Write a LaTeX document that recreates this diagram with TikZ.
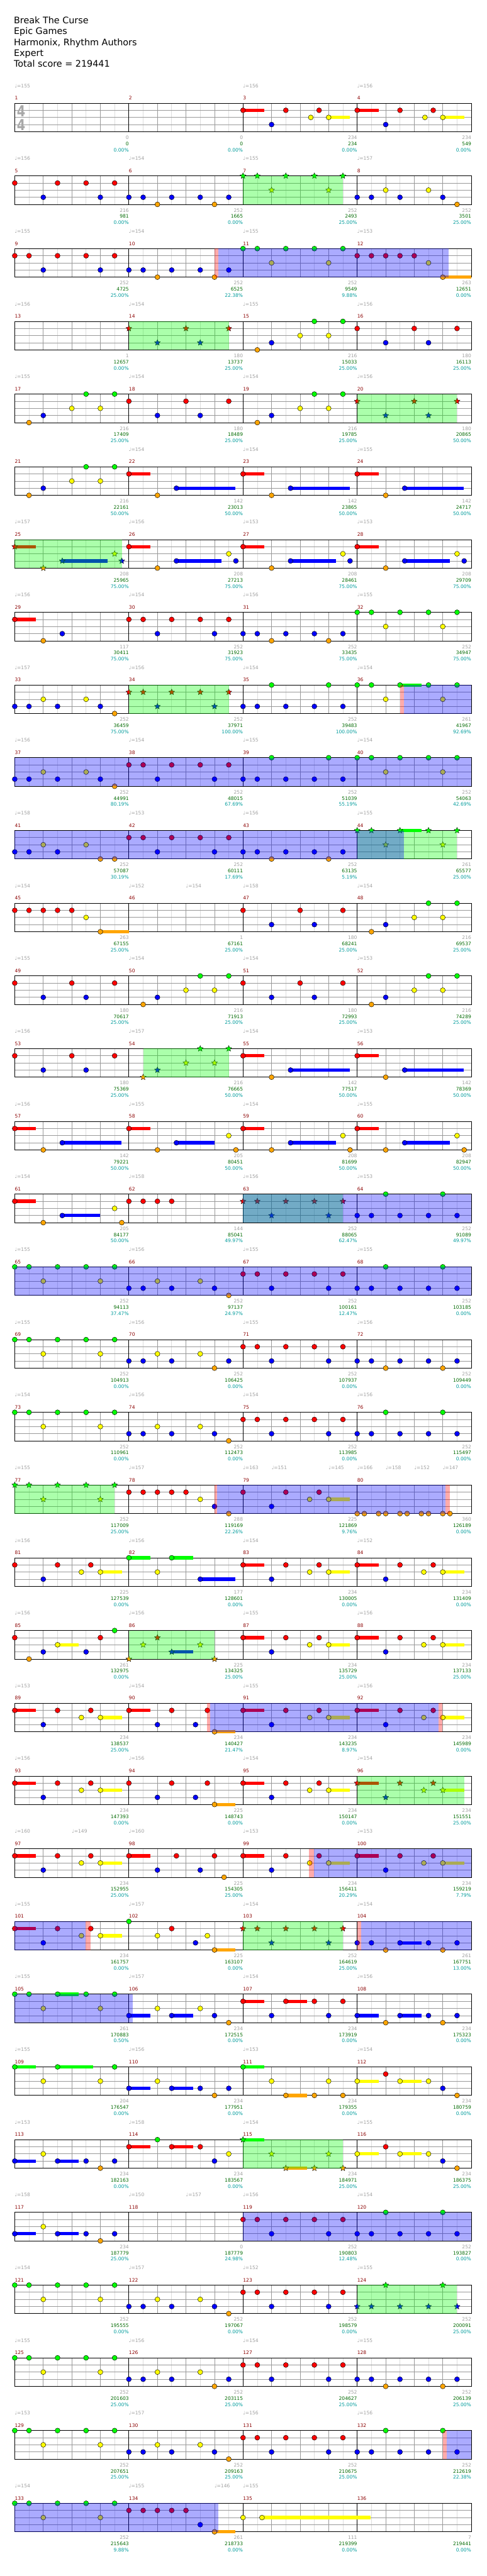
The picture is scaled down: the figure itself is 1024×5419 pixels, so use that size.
\documentclass[tikz,border=0pt]{standalone}
\usepackage{fontspec}
\setmainfont{DejaVu Sans}
\usetikzlibrary{shapes.geometric}

\definecolor{cG}{HTML}{00FF00}
\definecolor{cR}{HTML}{FF0000}
\definecolor{cY}{HTML}{FFFF00}
\definecolor{cB}{HTML}{0000FF}
\definecolor{cO}{HTML}{FFA500}
\definecolor{numred}{HTML}{8B0000}
\definecolor{bpmgray}{HTML}{A0A0A0}
\definecolor{ptsgray}{HTML}{A0A0A0}
\definecolor{totgreen}{HTML}{006A00}
\definecolor{pctteal}{HTML}{009C9C}
\definecolor{gridgray}{HTML}{999999}
\definecolor{gridlight}{HTML}{DDDDDD}
\definecolor{tsgray}{HTML}{A8A8A8}

% lanes, top to bottom
\def\laneG{0}\def\laneR{1}\def\laneY{2}\def\laneB{3}\def\laneO{4}

% recurring bars
\def\pG{G/0,G/1,Y/2,G/3,G/5,Y/6,G/7}
\def\pR{R/0,R/1,B/2,R/3,R/5,B/6,R/7}
\def\pY{B/0,B/1,Y/2,B/3,Y/5,B/6,O/7}
\def\pD{B/0,B/1,G/2,B/3,B/5,G/6,B/7}
\def\pO{B/0,B/1,O/2,B/3,B/5,O/6,B/7}
\def\pK{O/1,B/2,Y/4,G/5,Y/6,G/7}
\def\pQ{R/0,B/2,R/4,B/5,R/7}
\def\pT{R/0,O/2,B/3.33}
\def\pS{R/0,B/2,R/3,Y/4.67,R/5.33,Y/6}
\def\pF{R/0,R/1,R/2,R/3,R/4}

% x of measure #1 at eighth #2, top of its staff
\newcommand\setxy[2]{%
  \pgfmathsetmacro\xa{31+240*mod(#1-1,4)+30*(#2)}%
  \pgfmathsetmacro\ya{217+153*floor((#1-1)/4)}}

\newcommand\putnotes[3]{%
  \edef\notelist{#3}%
  \foreach \nla/\npo [count=\nk] in \notelist {%
    \setxy{#2}{\npo}%
    \pgfmathsetmacro\yb{\ya+15*\csname lane\nla\endcsname}%
    \node[#1, fill=c\nla] (#1#2-\nk) at (\xa,\yb) {};
  }}

\newcommand\holdbar[4]{%
  \setxy{#1}{#4}\let\xb\xa
  \setxy{#1}{#3}%
  \pgfmathsetmacro\yb{\ya+15*\csname lane#2\endcsname}%
  \fill[c#2] (\xa,\yb-3.5) rectangle (\xb,\yb+3.5);}

\newcommand\zone[4]{%
  \setxy{#2}{#4}\let\xb\xa
  \setxy{#2}{#3}%
  \fill[#1] (\xa,\ya) rectangle (\xb,\ya+60);}

\begin{document}
\begin{tikzpicture}[x=1pt, y=-1pt,
  note/.style={circle, draw=black, line width=0.6pt, inner sep=0pt, minimum size=10.5pt},
  starnote/.style={star, star points=5, star point ratio=2.2, draw=black, line width=0.5pt, inner sep=0pt, minimum size=13pt},
  eighth/.style={draw=gridlight, line width=1pt},
  quarter/.style={draw=gridgray, line width=1pt},
  lane/.style={draw=gridgray, line width=1pt},
  barline/.style={draw=black, line width=1pt},
  sp/.style={fill=green, fill opacity=0.33},
  od/.style={fill=blue, fill opacity=0.33},
  act/.style={fill=red, fill opacity=0.33},
  ttl/.style={anchor=base west, inner sep=0pt, font=\fontsize{19}{23}\selectfont},
  mnum/.style={anchor=base west, inner sep=0pt, text=numred, font=\fontsize{10}{12}\selectfont},
  bpm/.style={anchor=base west, inner sep=0pt, text=bpmgray, font=\fontsize{10}{12}\selectfont},
  pts/.style={anchor=base east, inner sep=0pt, text=ptsgray, font=\fontsize{10}{12}\selectfont},
  tot/.style={anchor=base east, inner sep=0pt, text=totgreen, font=\fontsize{10}{12}\selectfont},
  pct/.style={anchor=base east, inner sep=0pt, text=pctteal, font=\fontsize{10}{12}\selectfont},
  tsig/.style={anchor=base, inner sep=0pt, text=tsgray, font=\fontsize{32}{32}\selectfont\bfseries, xscale=0.8},
]
  \fill[white] (0,0) rectangle (1024,5419);
  \useasboundingbox (0,0) rectangle (1024,5419);

  % Header
  \node[ttl] (song) at (29,49.3) {Break The Curse};
  \node[ttl] (artist) at (29,72.3) {Epic Games};
  \node[ttl] (charter) at (29,95.3) {Harmonix, Rhythm Authors};
  \node[ttl] (level) at (29,118.3) {Expert};
  \node[ttl] (total) at (29,141.3) {Total score = 219441};

  % Staves
  \foreach \m in {1,...,136} {
    \setxy{\m}{0}
    \foreach \ee in {1,3,5,7} \draw[eighth] (\xa+30*\ee,\ya) -- (\xa+30*\ee,\ya+60);
    \foreach \ee in {2,4,6} \draw[quarter] (\xa+30*\ee,\ya) -- (\xa+30*\ee,\ya+60);
    \foreach \hl in {1,2,3} \draw[lane] (\xa,\ya+15*\hl) -- (\xa+240,\ya+15*\hl);
    \draw[barline] (\xa,\ya) -- (\xa,\ya+60);
    \node[mnum] (num\m) at (\xa,\ya-7) {\m};
  }
  \foreach \hl in {0,...,33} \draw[barline] (31,217+153*\hl) rectangle (991,277+153*\hl);
  \node[tsig] (ts1) at (44.5,245) {4};
  \node[tsig] (ts2) at (44.5,275) {4};

  % Sustains
  \foreach \m in {3,4,22,23,24,25,26,27,28,29,55,56,57,58,59,60,61,83,84,87,88,89,90,91,92,93,95,96,97,98,99,100,101,107,114} {\holdbar{\m}{R}{0}{1.5}}
  \foreach \m in {3,4,79,81,83,84,87,88,89,91,92,93,95,96,97,99,100,101} {\holdbar{\m}{Y}{6}{7.5}}
  \foreach \m in {22,23,24,55,56,57} {\holdbar{\m}{B}{3.33}{7.47}}
  \foreach \m in {25,26,27,28,59,60} {\holdbar{\m}{B}{3.33}{6.5}}
  \foreach \m in {58,61} {\holdbar{\m}{B}{3.33}{6}}
  \foreach \m in {12,45} {\holdbar{\m}{O}{6}{8}}
  \foreach \m in {90,94,102,134} {\holdbar{\m}{O}{6}{7.47}}
  \foreach \m in {36,44,82,105} {\holdbar{\m}{G}{3}{4.5}}
  \foreach \m in {82,109,111,115} {\holdbar{\m}{G}{0}{1.5}}
  \foreach \m in {85,112,116} {\holdbar{\m}{Y}{3}{4.5}}
  \foreach \m in {86,104,106,108,110,113,117} {\holdbar{\m}{B}{3}{4.5}}
  \foreach \m in {106,108,110,113,117} {\holdbar{\m}{B}{0}{1.5}}
  \foreach \m in {107,114} {\holdbar{\m}{R}{3}{4.5}}
  \foreach \m in {111,115} {\holdbar{\m}{O}{3}{4.5}}
  \foreach \m in {112,116} {\holdbar{\m}{Y}{0}{1.5}}
  \holdbar{82}{B}{5}{7.47}
  \holdbar{109}{G}{3}{5.5}
  \holdbar{135}{Y}{1.33}{8.96}

  % Notes
  \foreach \m in {11,32,36,40,65,69,73,105,121,125,129,133} {\putnotes{note}{\m}{\pG}}
  \foreach \m in {9,30,38,42,67,71,75,119,123,127,131} {\putnotes{note}{\m}{\pR}}
  \foreach \m in {8,33,37,66,74,122,130} {\putnotes{note}{\m}{\pY}}
  \foreach \m in {35,39,64,68,76,120,132} {\putnotes{note}{\m}{\pD}}
  \foreach \m in {6,10,31,43,72,104,128} {\putnotes{note}{\m}{\pO}}
  \foreach \m in {15,17,19,21,48,50,52} {\putnotes{note}{\m}{\pK}}
  \foreach \m in {16,18,47,49,51,53} {\putnotes{note}{\m}{\pQ}}
  \foreach \m in {22,23,24,29,55,56,57} {\putnotes{note}{\m}{\pT}}
  \foreach \m in {79,81,83,84,87,88,89,91,92,93,95,97,99,100,101} {\putnotes{note}{\m}{\pS}}
  \foreach \m in {3,4} {\putnotes{note}{\m}{R/0,B/2,R/3,Y/4.75,R/5.33,Y/6}}
  \foreach \m in {5,107} {\putnotes{note}{\m}{R/0,B/2,R/3,R/5,B/6,R/7}}
  \foreach \m in {12,45} {\putnotes{note}{\m}{\pF,Y/5,O/6}}
  \foreach \m in {26,27,28} {\putnotes{note}{\m}{\pT,Y/7,B/7.5}}
  \foreach \m in {58,59,60,61} {\putnotes{note}{\m}{\pT,Y/7,O/7.5}}
  \foreach \m in {70,126} {\putnotes{note}{\m}{B/0,B/1,Y/2,B/3,Y/5,O/6,B/7}}
  \foreach \m in {90,94} {\putnotes{note}{\m}{R/0,B/2,R/3,B/4.67,R/5.5,O/6}}
  \foreach \m in {110,113,117} {\putnotes{note}{\m}{B/0,Y/2,B/3,B/5,O/6,B/7}}
  \foreach \m in {112,116} {\putnotes{note}{\m}{Y/0,R/2,Y/3,Y/5,B/6,O/7}}
  \putnotes{note}{41}{B/0,B/1,Y/2,B/3,Y/5,O/6,O/7}
  \putnotes{note}{62}{R/0,R/1,R/2,R/3}
  \putnotes{note}{78}{\pF,Y/5,B/6,O/7}
  \putnotes{note}{80}{O/0,O/0.5,O/1.5,O/2,O/3,O/3.5,O/4.5,O/5,O/6,O/6.5}
  \putnotes{note}{82}{G/0,Y/2,G/3,B/5}
  \putnotes{note}{85}{R/0,O/1,B/2,Y/3,B/5,R/6,G/7}
  \putnotes{note}{98}{R/0,B/2,R/3.33,B/5,R/6,O/6.67}
  \putnotes{note}{102}{G/0,Y/2,R/3,B/4.67,Y/5.5,O/6}
  \putnotes{note}{106}{B/0,Y/2,B/3,Y/5,B/6,O/7}
  \putnotes{note}{108}{B/0,O/2,B/3,B/5,O/6,B/7}
  \putnotes{note}{109}{G/0,Y/2,G/3,Y/6,G/7}
  \putnotes{note}{111}{G/0,Y/2,O/3,O/5,Y/6,O/7}
  \putnotes{note}{114}{R/0,G/2,R/3,R/5,B/6,Y/7}
  \putnotes{note}{134}{\pF,B/5,O/6}
  \putnotes{note}{135}{Y/0,Y/1.33}

  % Star power notes
  \foreach \m in {7,44,77} {\putnotes{starnote}{\m}{\pG}}
  \foreach \m in {14,20} {\putnotes{starnote}{\m}{\pQ}}
  \foreach \m in {34,63,103} {\putnotes{starnote}{\m}{\pR}}
  \putnotes{starnote}{25}{\pT,Y/7,B/7.5}
  \putnotes{starnote}{54}{\pK}
  \putnotes{starnote}{86}{O/0,Y/1,R/2,B/3,Y/5,O/6}
  \putnotes{starnote}{96}{\pS}
  \putnotes{starnote}{115}{G/0,Y/2,O/3,O/5,Y/6,O/7}
  \putnotes{starnote}{124}{\pD}

  % Phrases, overdrive and activation
  \foreach \m/\ea/\eb in {7/0/7,14/0/7,20/0/7,25/0/7.5,34/0/7,44/0/7,54/1/7,63/0/7,77/0/7,86/0/6,96/0/7.5,103/0/7,115/0/7,124/0/7} {\zone{sp}{\m}{\ea}{\eb}}
  \foreach \m/\ea/\eb in {10/6.27/22.4,36/3.27/8,37/0/32,41/0/27.3,63/0/16,65/0/32,78/6.2/22.2,90/5.7/21.72,99/4.96/16,101/0/4.98,104/0.26/8,105/0/8.28,119/0/16,132/6.26/8,133/0/14.28} {\zone{od}{\m}{\ea}{\eb}}
  \foreach \m/\ea/\eb in {10/6/6.27,36/3/3.27,78/6/6.2,80/6.2/6.48,90/5.48/5.7,92/5.72/5.98,99/4.63/4.96,101/4.98/5.3,104/0/0.26,132/6/6.26} {\zone{act}{\m}{\ea}{\eb}}

  % Tempo marks
  \foreach \m/\ee/\bv in {1/0/155,3/0/156,4/0/156,5/0/156,6/0/154,7/0/155,8/0/157,9/0/155,10/0/154,11/0/155,12/0/153,
    13/0/156,14/0/154,15/0/155,16/0/156,17/0/155,18/0/154,19/0/154,20/0/156,22/0/154,23/0/154,24/0/155,
    25/0/157,26/0/156,27/0/153,28/0/153,29/0/156,30/0/154,31/0/156,32/0/155,33/0/157,34/0/156,35/0/154,36/0/154,
    37/0/156,38/0/154,39/0/155,40/0/154,41/0/158,42/0/153,43/0/156,44/0/155,45/0/154,46/0/152,46/4/154,47/0/158,48/0/154,
    49/0/155,50/0/154,51/0/154,52/0/153,53/0/156,54/0/157,55/0/154,56/0/153,57/0/156,58/0/155,59/0/154,60/0/155,
    61/0/154,62/0/158,63/0/156,64/0/153,65/0/155,66/0/156,67/0/155,68/0/155,69/0/155,70/0/156,71/0/155,72/0/156,
    73/0/154,74/0/156,75/0/154,76/0/156,77/0/155,78/0/157,79/0/163,79/2/151,79/6/145,80/0/166,80/2/158,80/4/152,80/6/147,
    81/0/156,82/0/156,83/0/154,84/0/152,85/0/156,86/0/156,87/0/155,88/0/156,89/0/153,90/0/154,91/0/155,92/0/156,
    93/0/156,94/0/156,95/0/154,96/0/154,97/0/160,97/4/149,98/0/160,99/0/153,100/0/153,101/0/155,102/0/157,103/0/154,104/0/154,
    105/0/155,106/0/157,107/0/154,108/0/156,109/0/155,110/0/156,111/0/153,112/0/154,113/0/153,114/0/158,115/0/154,116/0/155,
    117/0/158,118/0/150,118/4/157,119/0/156,120/0/154,121/0/154,122/0/157,123/0/152,124/0/155,125/0/155,126/0/156,127/0/154,128/0/155,
    129/0/153,130/0/157,131/0/156,132/0/156,133/0/154,134/0/155,134/6/146,135/0/155} {
    \setxy{\m}{\ee}
    \node[bpm] (bpm\m-\ee) at (\xa,\ya-33) {♩=\bv};
  }

  % Scores per measure
  \foreach \m/\ptm/\ptt/\ptp in {1/0/0/0.00,2/0/0/0.00,3/234/234/0.00,4/234/549/0.00,5/216/981/0.00,6/252/1665/0.00,
    7/252/2493/25.00,8/252/3501/25.00,9/252/4725/25.00,10/252/6525/22.38,11/252/9549/9.88,12/263/12651/0.00,
    13/1/12657/0.00,14/180/13737/25.00,15/216/15033/25.00,16/180/16113/25.00,17/216/17409/25.00,18/180/18489/25.00,
    19/216/19785/25.00,20/180/20865/50.00,21/216/22161/50.00,22/142/23013/50.00,23/142/23865/50.00,24/142/24717/50.00,
    25/208/25965/75.00,26/208/27213/75.00,27/208/28461/75.00,28/208/29709/75.00,29/117/30411/75.00,30/252/31923/75.00,
    31/252/33435/75.00,32/252/34947/75.00,33/252/36459/75.00,34/252/37971/100.00,35/252/39483/100.00,36/261/41967/92.69,
    37/252/44991/80.19,38/252/48015/67.69,39/252/51039/55.19,40/252/54063/42.69,41/252/57087/30.19,42/252/60111/17.69,
    43/252/63135/5.19,44/261/65577/25.00,45/263/67155/25.00,46/1/67161/25.00,47/180/68241/25.00,48/216/69537/25.00,
    49/180/70617/25.00,50/216/71913/25.00,51/180/72993/25.00,52/216/74289/25.00,53/180/75369/25.00,54/216/76665/50.00,
    55/142/77517/50.00,56/142/78369/50.00,57/142/79221/50.00,58/205/80451/50.00,59/208/81699/50.00,60/208/82947/50.00,
    61/205/84177/50.00,62/144/85041/49.97,63/252/88065/62.47,64/252/91089/49.97,65/252/94113/37.47,66/252/97137/24.97,
    67/252/100161/12.47,68/252/103185/0.00,69/252/104913/0.00,70/252/106425/0.00,71/252/107937/0.00,72/252/109449/0.00,
    73/252/110961/0.00,74/252/112473/0.00,75/252/113985/0.00,76/252/115497/0.00,77/252/117009/25.00,78/288/119169/22.26,
    79/225/121869/9.76,80/360/126189/0.00,81/225/127539/0.00,82/177/128601/0.00,83/234/130005/0.00,84/234/131409/0.00,
    85/261/132975/0.00,86/225/134325/25.00,87/234/135729/25.00,88/234/137133/25.00,89/234/138537/25.00,90/234/140427/21.47,
    91/234/143235/8.97,92/234/145989/0.00,93/234/147393/0.00,94/225/148743/0.00,95/234/150147/0.00,96/234/151551/25.00,
    97/234/152955/25.00,98/225/154305/25.00,99/234/156411/20.29,100/234/159219/7.79,101/234/161757/0.00,102/225/163107/0.00,
    103/252/164619/25.00,104/261/167751/13.00,105/261/170883/0.50,106/234/172515/0.00,107/234/173919/0.00,108/234/175323/0.00,
    109/204/176547/0.00,110/234/177951/0.00,111/234/179355/0.00,112/234/180759/0.00,113/234/182163/0.00,114/234/183567/0.00,
    115/234/184971/25.00,116/234/186375/25.00,117/234/187779/25.00,118/0/187779/24.98,119/252/190803/12.48,120/252/193827/0.00,
    121/252/195555/0.00,122/252/197067/0.00,123/252/198579/0.00,124/252/200091/25.00,125/252/201603/25.00,126/252/203115/25.00,
    127/252/204627/25.00,128/252/206139/25.00,129/252/207651/25.00,130/252/209163/25.00,131/252/210675/25.00,132/252/212619/22.38,
    133/252/215643/9.88,134/261/218733/0.00,135/111/219399/0.00,136/7/219441/0.00} {
    \setxy{\m}{8}
    \node[pts] (pts\m) at (\xa,\ya+76) {\ptm};
    \node[tot] (tot\m) at (\xa,\ya+89) {\ptt};
    \node[pct] (pct\m) at (\xa,\ya+102) {\ptp\%};
  }
\end{tikzpicture}
\end{document}
